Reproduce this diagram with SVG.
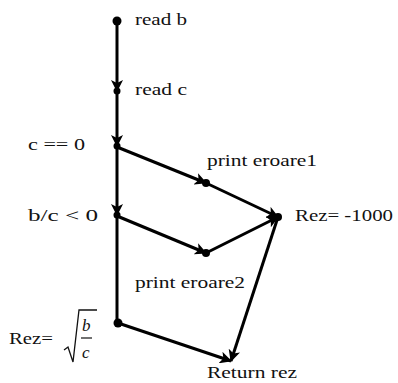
<svg xmlns="http://www.w3.org/2000/svg" width="398" height="383" viewBox="0 0 398 383">
<defs>
<marker id="arr" markerUnits="userSpaceOnUse" markerWidth="14" markerHeight="12" refX="11" refY="6" orient="auto">
<path d="M0,0 L12,6 L0,12 L3,6 Z" fill="#000"/>
</marker>
</defs>
<style>
.e{stroke:#000;stroke-width:3;fill:none}
.d{fill:#000}
text{font-family:"Liberation Serif","Times New Roman",serif;font-size:16px;fill:#111}
.i{font-style:italic;font-size:17px}
</style>
<rect width="398" height="383" fill="#fff"/>
<g id="connectors">
<line class="e" x1="117" y1="21" x2="117" y2="91" marker-end="url(#arr)"/>
<line class="e" x1="117" y1="91" x2="117" y2="146" marker-end="url(#arr)"/>
<line class="e" x1="117" y1="146" x2="117" y2="215" marker-end="url(#arr)"/>
<line class="e" x1="117" y1="215" x2="117" y2="323"/>
<line class="e" x1="117" y1="147" x2="206" y2="183" marker-end="url(#arr)"/>
<line class="e" x1="117" y1="216" x2="206" y2="253" marker-end="url(#arr)"/>
<line class="e" x1="206" y1="183" x2="278" y2="217" marker-end="url(#arr)"/>
<line class="e" x1="206" y1="253" x2="278" y2="217" marker-end="url(#arr)"/>
<line class="e" x1="278" y1="217" x2="231" y2="361" marker-end="url(#arr)"/>
<line class="e" x1="118" y1="323" x2="231" y2="361" marker-end="url(#arr)"/>
</g>
<g id="n_readb"><circle class="d" cx="117" cy="21" r="4.5"/><text x="135" y="25" textLength="52" lengthAdjust="spacingAndGlyphs">read b</text></g>
<g id="n_readc"><circle class="d" cx="117" cy="91" r="3.5"/><text x="135" y="95" textLength="52" lengthAdjust="spacingAndGlyphs">read c</text></g>
<g id="n_c0"><circle class="d" cx="117" cy="146" r="3.5"/><text x="28" y="150" textLength="57" lengthAdjust="spacingAndGlyphs">c == 0</text></g>
<g id="n_bc0"><circle class="d" cx="117" cy="215" r="3.5"/><text x="28" y="221" textLength="70" lengthAdjust="spacingAndGlyphs">b/c &lt; 0</text></g>
<g id="n_print1"><circle class="d" cx="206" cy="183" r="4"/><text x="207" y="166" textLength="110" lengthAdjust="spacingAndGlyphs">print eroare1</text></g>
<g id="n_print2"><circle class="d" cx="206" cy="253" r="4"/><text x="135" y="288" textLength="110" lengthAdjust="spacingAndGlyphs">print eroare2</text></g>
<g id="n_rez1000"><circle class="d" cx="278" cy="217" r="4"/><text x="295" y="221" textLength="98" lengthAdjust="spacingAndGlyphs">Rez= -1000</text></g>
<g id="n_rezsqrt"><circle class="d" cx="118" cy="323" r="4.5"/>
<text x="9" y="344" textLength="44" lengthAdjust="spacingAndGlyphs">Rez=</text>
<path d="M64,350 L68,347 L73,362 L79,310 L97,310" stroke="#111" stroke-width="1.3" fill="none"/>
<text class="i" x="82" y="331">b</text>
<line x1="81" y1="338" x2="92" y2="338" stroke="#111" stroke-width="1.2"/>
<text class="i" x="82" y="358">c</text>
</g>
<g id="n_return"><text x="207" y="378" textLength="90" lengthAdjust="spacingAndGlyphs">Return rez</text></g>
</svg>
